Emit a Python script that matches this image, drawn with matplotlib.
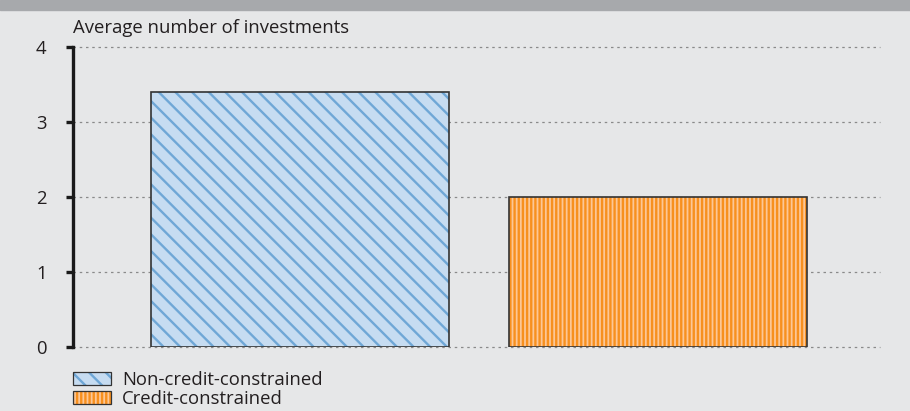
import matplotlib
matplotlib.use("Agg")
import matplotlib.pyplot as plt
import matplotlib.patches as mpatches
from matplotlib.legend_handler import HandlerTuple

plt.rcParams["font.family"] = ["Open Sans", "DejaVu Sans"]
plt.rcParams["hatch.linewidth"] = 1.7

categories = ["Non-credit-constrained", "Credit-constrained"]
values = [3.4, 2.0]
y_ticks = [0, 1, 2, 3, 4]
y_label = "Average number of investments"

FILLS = ["#c6dcf1", "#fcc796"]
HATCH_COLORS = ["#6fa7d6", "#f7901e"]
HATCHES = ["\\\\", "||||"]
BG = "#e6e7e8"
FS = 13.3

fig = plt.figure(figsize=(9.10, 4.11), dpi=100, facecolor=BG)
fig.patches.append(mpatches.Rectangle((0, 1 - 10 / 411), 1, 10 / 411,
                                      transform=fig.transFigure, color="#a7a9ac", zorder=0))
ax = fig.add_axes([73 / 910, 1 - 347 / 411, (880 - 73) / 910, 300 / 411])
ax.set_facecolor(BG)

xs = range(len(values))
width = 0.834
for i, v in zip(xs, values):
    ax.bar(i, v, width=width, color=FILLS[i], edgecolor=HATCH_COLORS[i],
           hatch=HATCHES[i], linewidth=0, zorder=2)
    ax.bar(i, v, width=width, fill=False, edgecolor="#333333", linewidth=1.2, zorder=3)

ax.set_xlim(-0.635, 1.622)
ax.set_ylim(0, 4)
ax.set_yticks(y_ticks)
ax.set_yticklabels([str(t) for t in y_ticks], fontsize=FS, color="#231f20")
ax.set_xticks([])
ax.yaxis.grid(True, color="#8a8a8a", linestyle=(0, (2, 3)), linewidth=0.9)
for gl in ax.yaxis.get_gridlines():
    gl.set_clip_on(False)
ax.set_axisbelow(True)
for s in ["top", "right", "bottom"]:
    ax.spines[s].set_visible(False)
ax.spines["left"].set_linewidth(2.4)
ax.spines["left"].set_color("#1a1a1a")
ax.tick_params(axis="y", length=5, width=2.4, color="#1a1a1a", pad=14)

fig.text(73 / 910, 1 - 28 / 411, y_label, fontsize=FS, color="#231f20", va="center", ha="left")

handles = []
for i in range(len(categories)):
    h1 = mpatches.Patch(facecolor=FILLS[i], edgecolor=HATCH_COLORS[i], hatch=HATCHES[i], linewidth=0)
    h2 = mpatches.Patch(fill=False, edgecolor="#333333", linewidth=0.9)
    handles.append((h1, h2))
fig.legend(handles, categories, handler_map={tuple: HandlerTuple(ndivide=1, pad=0)},
           loc="upper left", bbox_to_anchor=(73 / 910, 1 - 371 / 411), frameon=False,
           fontsize=FS, handlelength=2.05, handleheight=0.7, handletextpad=0.6,
           labelspacing=0.05, borderpad=0, borderaxespad=0, labelcolor="#231f20")

fig.savefig("out.png", dpi=100, facecolor=BG)
